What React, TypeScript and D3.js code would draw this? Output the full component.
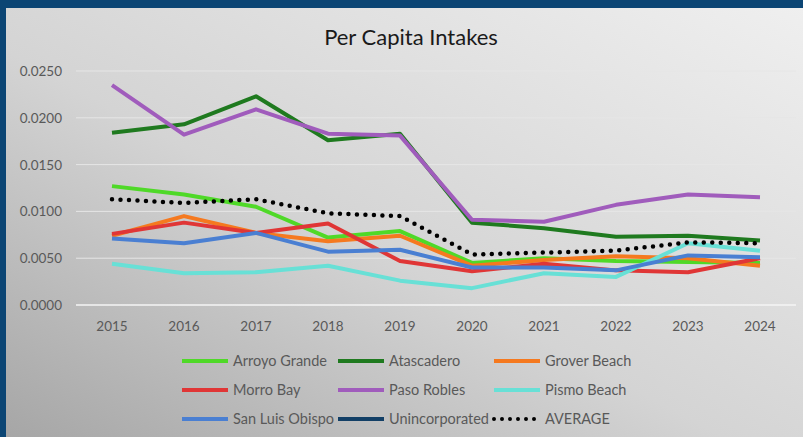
import React from "react";
import * as d3 from "d3";

const years = [2015, 2016, 2017, 2018, 2019, 2020, 2021, 2022, 2023, 2024];
const yTicks = [0, 0.005, 0.01, 0.015, 0.02, 0.025];

const arroyoGrande = [0.0127, 0.0118, 0.0105, 0.0072, 0.0079, 0.0045, 0.005, 0.0047, 0.0046, 0.0045];
const atascadero = [0.0184, 0.0193, 0.0223, 0.0176, 0.0183, 0.0088, 0.0082, 0.0073, 0.0074, 0.0069];
const groverBeach = [0.0074, 0.0095, 0.0077, 0.0068, 0.0074, 0.0042, 0.0048, 0.0052, 0.005, 0.0042];
const morroBay = [0.0076, 0.0088, 0.0077, 0.0087, 0.0047, 0.0036, 0.0044, 0.0037, 0.0035, 0.005];
const pasoRobles = [0.0235, 0.0182, 0.0209, 0.0183, 0.0181, 0.0091, 0.0089, 0.0107, 0.0118, 0.0115];
const pismoBeach = [0.0044, 0.0034, 0.0035, 0.0042, 0.0026, 0.0018, 0.0034, 0.003, 0.0066, 0.0058];
const sanLuisObispo = [0.0071, 0.0066, 0.0077, 0.0057, 0.0059, 0.004, 0.004, 0.0037, 0.0053, 0.0051];
const unincorporated: (number | null)[] = [null, null, null, null, null, null, null, null, null, null];
const average = [0.0113, 0.0109, 0.0113, 0.0098, 0.0095, 0.0054, 0.0056, 0.0058, 0.0067, 0.0066];

const series = [
  { name: "Arroyo Grande", values: arroyoGrande, color: "#4fd928", dotted: false },
  { name: "Atascadero", values: atascadero, color: "#1f7a1f", dotted: false },
  { name: "Grover Beach", values: groverBeach, color: "#f5791f", dotted: false },
  { name: "Morro Bay", values: morroBay, color: "#e03636", dotted: false },
  { name: "Paso Robles", values: pasoRobles, color: "#a05cbc", dotted: false },
  { name: "Pismo Beach", values: pismoBeach, color: "#68e0d6", dotted: false },
  { name: "San Luis Obispo", values: sanLuisObispo, color: "#4a7fd2", dotted: false },
  { name: "Unincorporated", values: unincorporated, color: "#123f66", dotted: false },
  { name: "AVERAGE", values: average, color: "#000000", dotted: true },
];

const W = 803;
const H = 437;
const font = "Lato, 'Open Sans', sans-serif";
const textColor = "#595959";

export default function App() {
  const x = d3.scalePoint<number>().domain(years).range([76, 796]).padding(0.5);
  const y = d3.scaleLinear().domain([0, 0.025]).range([305, 71]);
  const line = d3
    .line<number | null>()
    .defined((d) => d !== null)
    .x((_, i) => x(years[i]) as number)
    .y((d) => y(d as number));

  const legendCols = [182, 338, 494];
  const legendRows = [361, 390, 419];

  return (
    <svg
      width={W}
      height={H}
      style={{ position: "fixed", left: 0, top: 0, display: "block" }}
      fontFamily={font}
    >
      <defs>
        <linearGradient id="bg" x1="0" y1="1" x2="1" y2="0">
          <stop offset="0" stopColor="#a6a6a6" />
          <stop offset="0.45" stopColor="#d4d4d4" />
          <stop offset="1" stopColor="#efefef" />
        </linearGradient>
      </defs>
      <rect x={0} y={0} width={W} height={H} fill="#0b4574" />
      <rect x={6} y={8} width={W - 6} height={H - 8} fill="url(#bg)" />
      <text x={411} y={45} textAnchor="middle" fontSize={22} fill="#1a1a1a">
        Per Capita Intakes
      </text>
      {yTicks.map((t) => (
        <g key={t}>
          <line
            x1={76}
            x2={796}
            y1={y(t)}
            y2={y(t)}
            stroke={t === 0 ? "#f4f4f4" : "#e6e6e6"}
            strokeWidth={t === 0 ? 1.6 : 1}
          />
          <text x={62} y={y(t) + 5} textAnchor="end" fontSize={13.5} fill={textColor}>
            {t.toFixed(4)}
          </text>
        </g>
      ))}
      {years.map((yr) => (
        <text key={yr} x={x(yr)} y={331} textAnchor="middle" fontSize={13.5} fill={textColor}>
          {yr}
        </text>
      ))}
      {series.map((s) => (
        <path
          key={s.name}
          d={line(s.values) || ""}
          fill="none"
          stroke={s.color}
          strokeWidth={s.dotted ? 4.5 : 4}
          strokeLinejoin="round"
          strokeLinecap={s.dotted ? "round" : "butt"}
          strokeDasharray={s.dotted ? "0 8.5" : undefined}
        />
      ))}
      {series.map((s, i) => {
        const cx = legendCols[i % 3];
        const cy = legendRows[Math.floor(i / 3)];
        return (
          <g key={s.name}>
            <line
              x1={cx}
              x2={cx + 46}
              y1={cy}
              y2={cy}
              stroke={s.color}
              strokeWidth={4}
              strokeLinecap={s.dotted ? "round" : "butt"}
              strokeDasharray={s.dotted ? "0 8" : undefined}
            />
            <text x={cx + 51} y={cy + 5} fontSize={14.5} fill={textColor}>
              {s.name}
            </text>
          </g>
        );
      })}
    </svg>
  );
}
